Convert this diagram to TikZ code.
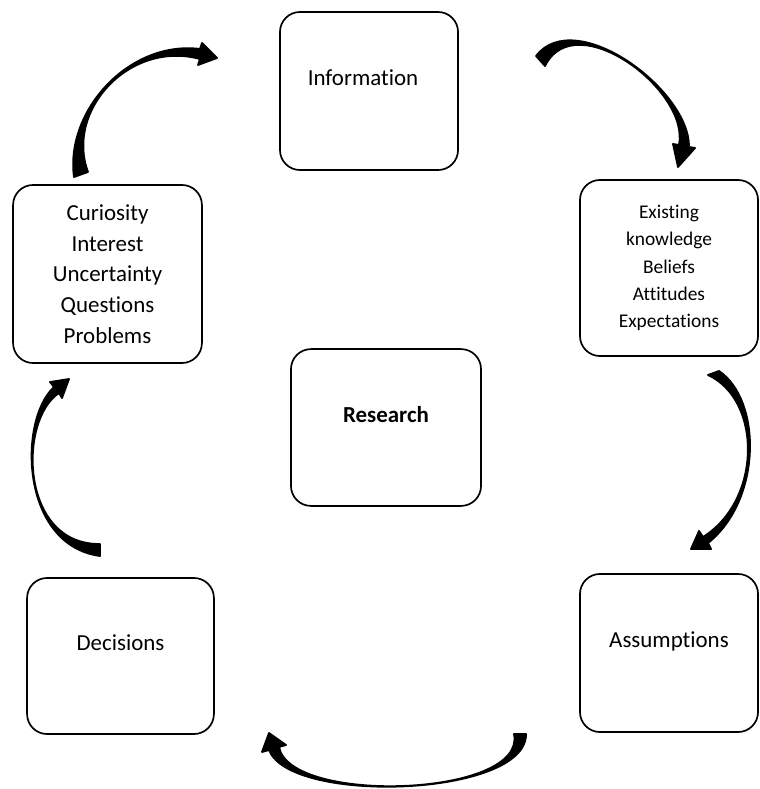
\documentclass[tikz,border=0pt]{standalone}
\usepackage{fontspec}
\setmainfont{Carlito}[Ligatures=NoCommon]
\usepackage{tikz}

% filled bent arrow: outer tail, inner tail, two controls, head base/barbs/tip
\newcommand{\bentarrow}[9]{%
  \filldraw[line width=1.3pt, line join=round] (#1) .. controls (#3) and (#4) .. (#5) -- (#6) -- (#7) -- (#8) -- (#9)
    .. controls (#4) and (#3) .. (#2) -- cycle;}

\begin{document}
\begin{tikzpicture}[x=0.025cm, y=-0.025cm,
    box/.style={draw, line width=1.2pt, rounded corners=0.5cm, align=center,
      font=\fontsize{16.3}{21.9}\selectfont},
    single/.style={text depth=0.65cm}]
    \useasboundingbox (0,0) rectangle (760,789);

    \node[box, single, minimum width=4.45cm, minimum height=3.95cm] (info) at (369,91) {Information\hspace{0.3cm}};
    \node[box, minimum width=4.45cm, minimum height=4.4cm,
      font=\fontsize{13.8}{19.3}\selectfont] (know) at (669,268)
      {Existing\\knowledge\\Beliefs\\Attitudes\\Expectations};
    \node[box, single, minimum width=4.45cm, minimum height=3.95cm] (assum) at (669,653) {Assumptions};
    \node[box, single, minimum width=4.67cm, minimum height=3.9cm] (decis) at (120.5,656) {Decisions};
    \node[box, minimum width=4.72cm, minimum height=4.45cm] (curio) at (107.5,274)
      {Curiosity\\Interest\\Uncertainty\\Questions\\Problems};
    \node[box, single, minimum width=4.75cm, minimum height=3.92cm] (research) at (386,427.5) {\textbf{Research}};

    % curiosity -> information
    \bentarrow{74,177}{88,172}{65,110}{130,40}{200,49}{202,43}{217,58}{198,65}{200,59}
    % information -> knowledge
    \bentarrow{536,56}{545,66}{575,5}{690,90}{689,147}{695,148}{678,167}{673,144}{679,145}
    % knowledge -> assumptions
    \bentarrow{719,371}{708,375}{762,400}{762,500}{708,543}{711,549}{691,549}{699,531}{703,537}
    % assumptions -> decisions
    \bentarrow{526,734}{514,734}{527,797}{290,805}{269,750}{262,752}{269,733}{286,745}{279,747}
    % decisions -> curiosity
    \bentarrow{100,556}{100,544}{20,545}{18,420}{54,387}{50,382}{69,379}{62,398}{59,393}
\end{tikzpicture}
\end{document}
